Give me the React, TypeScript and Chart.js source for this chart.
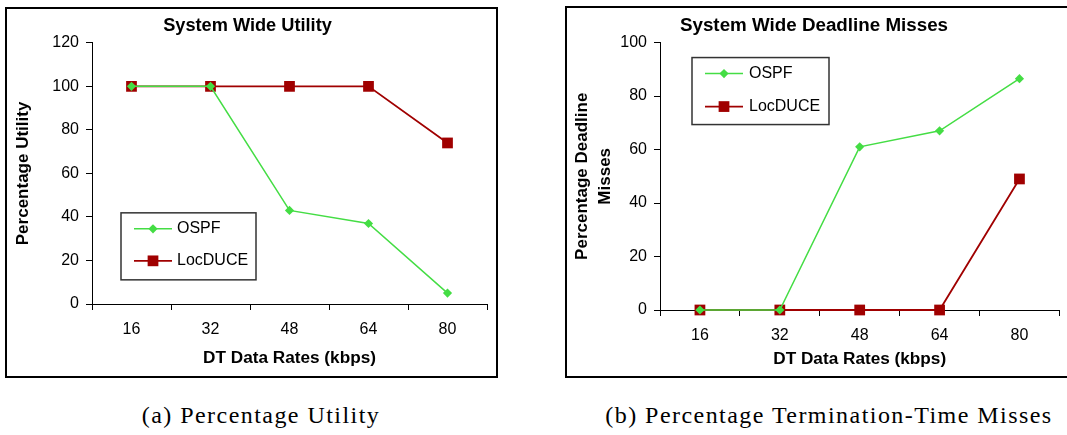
import React, { useEffect, useRef } from 'react';
import { Chart, registerables } from 'chart.js';

Chart.register(...registerables);

const rates = ['16', '32', '48', '64', '80'];
const utilOSPF = [100, 100, 43, 37, 5];
const utilLocDUCE = [100, 100, 100, 100, 74];
const missOSPF = [0, 0, 61, 67, 86.5];
const missLocDUCE = [0, 0, 0, 0, 49];
const seriesNames = ['OSPF', 'LocDUCE'];

const GREEN = '#44DD44';
const RED = '#A00000';
const FONT = '"Liberation Sans", Arial, Helvetica, sans-serif';

const boxLegend = {
  id: 'boxLegend',
  afterDraw(chart: any, _args: any, opts: any) {
    if (!opts || opts.w == null) return;
    const { ctx, chartArea } = chart;
    const x = chartArea.left + opts.x;
    const y = chartArea.top + opts.y;
    ctx.save();
    ctx.fillStyle = '#fff';
    ctx.fillRect(x, y, opts.w, opts.h);
    ctx.strokeStyle = '#333';
    ctx.lineWidth = 1.5;
    ctx.strokeRect(x, y, opts.w, opts.h);
    chart.data.datasets.forEach((ds: any, i: number) => {
      const ry = y + opts.rows[i];
      ctx.strokeStyle = ds.borderColor;
      ctx.lineWidth = ds.borderWidth;
      ctx.beginPath();
      ctx.moveTo(x + opts.lineX0, ry);
      ctx.lineTo(x + opts.lineX1, ry);
      ctx.stroke();
      const cx = x + (opts.lineX0 + opts.lineX1) / 2;
      ctx.fillStyle = ds.pointBackgroundColor;
      const r = ds.pointRadius;
      ctx.beginPath();
      if (ds.pointStyle === 'rect') {
        const s = Math.SQRT1_2 * r;
        ctx.rect(cx - s, ry - s, 2 * s, 2 * s);
      } else {
        ctx.moveTo(cx, ry - r);
        ctx.lineTo(cx + r, ry);
        ctx.lineTo(cx, ry + r);
        ctx.lineTo(cx - r, ry);
        ctx.closePath();
      }
      ctx.fill();
      ctx.fillStyle = '#000';
      ctx.font = '16px ' + FONT;
      ctx.textBaseline = 'middle';
      ctx.textAlign = 'left';
      ctx.fillText(ds.label, x + opts.textX, ry);
    });
    ctx.restore();
  },
};

function buildConfig(p: any): any {
  return {
    type: 'line',
    data: {
      labels: rates,
      datasets: [
        {
          label: seriesNames[0],
          data: p.ospf,
          borderColor: GREEN,
          backgroundColor: GREEN,
          pointBackgroundColor: GREEN,
          pointBorderColor: GREEN,
          pointBorderWidth: 0,
          pointStyle: 'rectRot',
          pointRadius: 4.6,
          borderWidth: 1.5,
          clip: false,
          tension: 0,
        },
        {
          label: seriesNames[1],
          data: p.loc,
          borderColor: RED,
          backgroundColor: RED,
          pointBackgroundColor: RED,
          pointBorderColor: RED,
          pointBorderWidth: 0,
          pointStyle: 'rect',
          pointRadius: 7.6,
          borderWidth: 1.8,
          clip: false,
          tension: 0,
        },
      ],
    },
    options: {
      responsive: false,
      animation: false,
      events: [],
      layout: { padding: { left: 0, right: p.padRight, top: 0, bottom: 0 } },
      plugins: {
        legend: { display: false },
        tooltip: { enabled: false },
        title: {
          display: true,
          text: p.title,
          color: '#000',
          font: { family: FONT, size: p.titleSize, weight: 'bold', lineHeight: 1.2 },
          padding: { top: 6.5, bottom: 5.5 },
        },
        boxLegend: p.legend,
      },
      scales: {
        x: {
          type: 'category',
          offset: true,
          grid: { offset: true, drawOnChartArea: false, tickLength: 6, color: '#000', tickColor: '#000', lineWidth: 1 },
          border: { color: '#000', width: 1 },
          ticks: { color: '#000', font: { family: FONT, size: 16 }, padding: p.xTickPad, maxRotation: 0 },
          title: {
            display: true,
            text: 'DT Data Rates (kbps)',
            color: '#000',
            font: { family: FONT, size: 17.2, weight: 'bold', lineHeight: 1.2 },
            padding: { top: 0, bottom: p.xTitlePad },
          },
          afterFit: (s: any) => {
            s.height = p.xHeight;
          },
        },
        y: {
          min: 0,
          max: p.ymax,
          grid: { drawOnChartArea: false, tickLength: 6, color: '#000', tickColor: '#000', lineWidth: 1 },
          border: { color: '#000', width: 1 },
          ticks: { stepSize: 20, color: '#000', font: { family: FONT, size: 16 }, padding: 7 },
          title: {
            display: true,
            text: p.yTitle,
            color: '#000',
            font: { family: FONT, size: 17, weight: 'bold', lineHeight: 1.35 },
            padding: { top: p.yTitlePad, bottom: 0 },
          },
          afterFit: (s: any) => {
            s.width = p.yWidth;
          },
        },
      },
    },
    plugins: [boxLegend],
  };
}

function ChartCanvas({ config, left, top, width, height }: any) {
  const ref = useRef<HTMLCanvasElement | null>(null);
  useEffect(() => {
    const c = new Chart(ref.current as HTMLCanvasElement, config);
    return () => c.destroy();
  }, []);
  return (
    <canvas
      ref={ref}
      width={width}
      height={height}
      style={{ position: 'absolute', left, top, width, height }}
    />
  );
}

const leftConfig = buildConfig({
  ospf: utilOSPF,
  loc: utilLocDUCE,
  title: 'System Wide Utility',
  titleSize: 18.2,
  yTitle: 'Percentage Utility',
  ymax: 120,
  padRight: 8,
  yWidth: 84,
  xHeight: 72,
  xTickPad: 10,
  xTitlePad: 7.8,
  yTitlePad: 3.8,
  legend: { x: 29, y: 170, w: 135, h: 67, rows: [16, 48], lineX0: 13, lineX1: 51, textX: 56 },
});

const rightConfig = buildConfig({
  ospf: missOSPF,
  loc: missLocDUCE,
  title: 'System Wide Deadline Misses',
  titleSize: 18.8,
  yTitle: ['Percentage Deadline', 'Misses'],
  ymax: 100,
  padRight: 6,
  yWidth: 93,
  xHeight: 66,
  xTickPad: 9.5,
  xTitlePad: 6.8,
  yTitlePad: 3.5,
  legend: { x: 32, y: 15, w: 137, h: 67, rows: [16, 49], lineX0: 13, lineX1: 51, textX: 57 },
});

const captionStyle: any = {
  position: 'absolute',
  top: 401,
  fontFamily: '"Liberation Serif", "Times New Roman", serif',
  fontSize: 24,
  lineHeight: '28px',
  color: '#000',
  textAlign: 'center',
  whiteSpace: 'nowrap',
  letterSpacing: '1.45px',
};

export default function App() {
  return (
    <div style={{ position: 'fixed', left: 0, top: 0, width: 1067, height: 435, background: '#fff', overflow: 'hidden' }}>
      <div style={{ position: 'absolute', left: 5, top: 7, width: 493, height: 371, boxSizing: 'border-box', border: '2px solid #000' }} />
      <div style={{ position: 'absolute', left: 565, top: 6, width: 520, height: 372, boxSizing: 'border-box', border: '2px solid #000' }} />
      <ChartCanvas config={leftConfig} left={8} top={9} width={487} height={367} />
      <ChartCanvas config={rightConfig} left={567} top={8} width={500} height={368} />
      <div style={{ ...captionStyle, left: 61, width: 400 }}>(a) Percentage Utility</div>
      <div style={{ ...captionStyle, left: 579, width: 500 }}>(b) Percentage Termination-Time Misses</div>
    </div>
  );
}
